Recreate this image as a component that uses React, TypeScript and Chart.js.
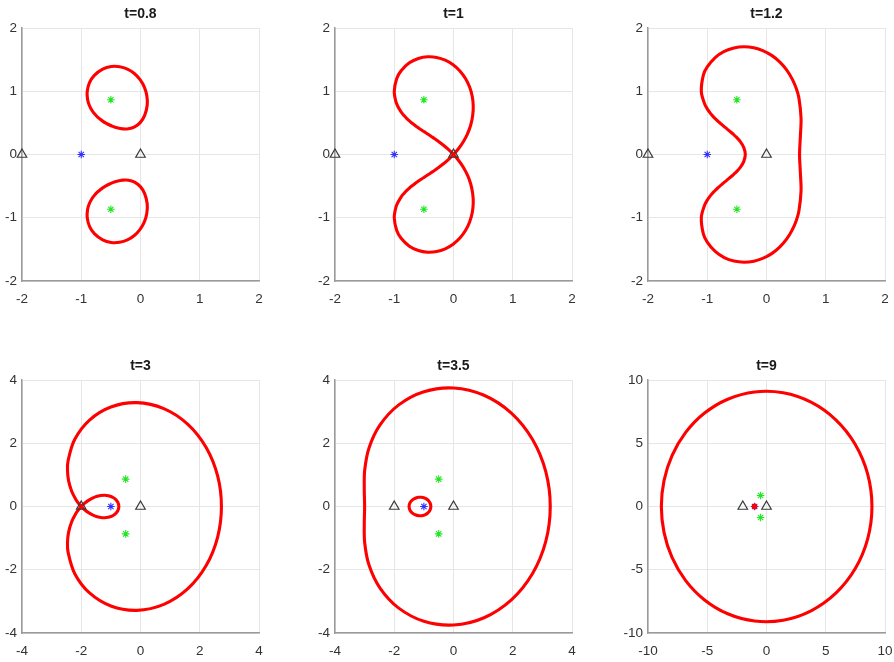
import React, { useEffect, useRef } from 'react';
import { Chart, registerables } from 'chart.js';

Chart.register(...registerables);

type P = [number, number];

// ---------- data ----------
const PANEL_TITLES = ['t=0.8', 't=1', 't=1.2', 't=3', 't=3.5', 't=9'];
const AXIS_LIMITS = [2, 2, 2, 4, 4, 10];
const TICK_STEPS = [1, 1, 1, 2, 2, 5];

const TRIANGLES: P[] = [[-2, 0], [0, 0]];
const ZEROS: P[] = [[-0.5, 0.866], [-0.5, -0.866]];
const POLE: P[] = [[-1, 0]];

const T08_UPPER: P[] = [
  [-0.1, 0.436], [-0.002, 0.508], [0.07, 0.618], [0.113, 0.779], [0.107, 0.929], [0.065, 1.065],
  [-0.007, 1.183], [-0.104, 1.28], [-0.221, 1.35], [-0.353, 1.388], [-0.494, 1.391], [-0.638, 1.35],
  [-0.779, 1.251], [-0.861, 1.135], [-0.9, 0.995], [-0.893, 0.868], [-0.863, 0.775], [-0.815, 0.691],
  [-0.769, 0.635], [-0.724, 0.592], [-0.679, 0.556], [-0.633, 0.524], [-0.584, 0.496], [-0.531, 0.47],
  [-0.47, 0.445], [-0.397, 0.422], [-0.299, 0.405], [-0.204, 0.406],
];
const T08_LOWER: P[] = [
  [-0.1, -0.436], [-0.002, -0.508], [0.07, -0.618], [0.113, -0.779], [0.107, -0.929], [0.065, -1.065],
  [-0.007, -1.183], [-0.104, -1.28], [-0.221, -1.35], [-0.353, -1.388], [-0.494, -1.391], [-0.638, -1.35],
  [-0.779, -1.251], [-0.861, -1.135], [-0.9, -0.995], [-0.893, -0.868], [-0.863, -0.775], [-0.815, -0.691],
  [-0.769, -0.635], [-0.724, -0.592], [-0.679, -0.556], [-0.633, -0.524], [-0.584, -0.496], [-0.531, -0.47],
  [-0.47, -0.445], [-0.397, -0.422], [-0.299, -0.405], [-0.204, -0.406],
];

const T1_EIGHT: P[] = [
  [0, 0],
  [0.087, 0.095], [0.168, 0.206], [0.238, 0.332], [0.292, 0.47], [0.324, 0.618], [0.333, 0.77],
  [0.316, 0.921], [0.272, 1.067], [0.202, 1.202], [0.108, 1.321], [-0.007, 1.419], [-0.139, 1.491],
  [-0.284, 1.535], [-0.438, 1.545], [-0.593, 1.518], [-0.745, 1.449], [-0.884, 1.324], [-0.958, 1.201],
  [-1, 1],
  [-0.971, 0.831], [-0.934, 0.75], [-0.882, 0.669], [-0.835, 0.615], [-0.792, 0.572], [-0.75, 0.535],
  [-0.71, 0.503], [-0.669, 0.473], [-0.627, 0.444], [-0.584, 0.416], [-0.539, 0.387], [-0.49, 0.357],
  [-0.437, 0.325], [-0.38, 0.289], [-0.316, 0.249], [-0.246, 0.202], [-0.169, 0.147], [-0.087, 0.08],
  [0, 0],
  [0.087, -0.095], [0.168, -0.206], [0.238, -0.332], [0.292, -0.47], [0.324, -0.618], [0.333, -0.77],
  [0.316, -0.921], [0.272, -1.067], [0.202, -1.202], [0.108, -1.321], [-0.007, -1.419], [-0.139, -1.491],
  [-0.284, -1.535], [-0.438, -1.545], [-0.593, -1.518], [-0.745, -1.449], [-0.884, -1.324], [-0.958, -1.201],
  [-1, -1],
  [-0.971, -0.831], [-0.934, -0.75], [-0.882, -0.669], [-0.835, -0.615], [-0.792, -0.572], [-0.75, -0.535],
  [-0.71, -0.503], [-0.669, -0.473], [-0.627, -0.444], [-0.584, -0.416], [-0.539, -0.387], [-0.49, -0.357],
  [-0.437, -0.325], [-0.38, -0.289], [-0.316, -0.249], [-0.246, -0.202], [-0.169, -0.147], [-0.087, -0.08],
];

const T12_LOOP: P[] = [
  [-1.066, -1.256], [-1.0, -1.385], [-0.866, -1.533], [-0.713, -1.63], [-0.549, -1.685], [-0.38, -1.703],
  [-0.214, -1.687], [-0.054, -1.639], [0.094, -1.563], [0.226, -1.461], [0.339, -1.339], [0.43, -1.2],
  [0.5, -1.05], [0.547, -0.893], [0.583, -0.576], [0.571, -0.277],
  [0.558, 0],
  [0.571, 0.277], [0.583, 0.576], [0.547, 0.893], [0.5, 1.05], [0.43, 1.2], [0.339, 1.339], [0.226, 1.461],
  [0.094, 1.563], [-0.054, 1.639], [-0.214, 1.687], [-0.38, 1.703], [-0.549, 1.685], [-0.713, 1.63],
  [-0.866, 1.533], [-1.0, 1.385], [-1.066, 1.256],
  [-1.1, 0.995],
  [-1.042, 0.794], [-1.0, 0.722], [-0.943, 0.647], [-0.895, 0.595], [-0.852, 0.554], [-0.811, 0.519],
  [-0.773, 0.487], [-0.736, 0.458], [-0.699, 0.429], [-0.663, 0.402], [-0.627, 0.373], [-0.59, 0.344],
  [-0.553, 0.313], [-0.515, 0.28], [-0.442, 0.203], [-0.383, 0.109],
  [-0.358, 0],
  [-0.383, -0.109], [-0.442, -0.203], [-0.515, -0.28], [-0.553, -0.313], [-0.59, -0.344], [-0.627, -0.373],
  [-0.663, -0.402], [-0.699, -0.429], [-0.736, -0.458], [-0.773, -0.487], [-0.811, -0.519], [-0.852, -0.554],
  [-0.895, -0.595], [-0.943, -0.647], [-1.0, -0.722], [-1.042, -0.794],
  [-1.1, -0.995],
];

const T3_LOOP: P[] = [
  [-2, 0],
  [-2.087, 0.095], [-2.172, 0.207], [-2.323, 0.482], [-2.43, 0.825], [-2.464, 1.144], [-2.445, 1.445],
  [-2.223, 2.117], [-1.73, 2.726], [-1.0, 3.146], [-0.12, 3.284], [0.787, 3.095], [1.599, 2.599],
  [2.221, 1.86], [2.604, 0.966], [2.732, 0],
  [2.604, -0.966], [2.221, -1.86], [1.599, -2.599], [0.787, -3.095], [-0.12, -3.284], [-1.0, -3.146],
  [-1.73, -2.726], [-2.223, -2.117], [-2.445, -1.445], [-2.464, -1.144], [-2.43, -0.825], [-2.323, -0.482],
  [-2.172, -0.207], [-2.087, -0.095],
  [-2, 0],
  [-1.913, 0.08], [-1.828, 0.146], [-1.667, 0.243], [-1.525, 0.303], [-1.424, 0.331], [-1.346, 0.346],
  [-1.205, 0.354], [-1.092, 0.342], [-1.0, 0.318], [-0.924, 0.284], [-0.86, 0.242], [-0.808, 0.192],
  [-0.767, 0.134], [-0.741, 0.069], [-0.732, 0],
  [-0.741, -0.069], [-0.767, -0.134], [-0.808, -0.192], [-0.86, -0.242], [-0.924, -0.284], [-1.0, -0.318],
  [-1.092, -0.342], [-1.205, -0.354], [-1.346, -0.346], [-1.424, -0.331], [-1.525, -0.303], [-1.667, -0.243],
  [-1.828, -0.146], [-1.913, -0.08],
];

const T35_OUTER: P[] = [
  [3.266, 0], [3.115, 1.102], [2.668, 2.118], [1.953, 2.953], [1.031, 3.517], [0.004, 3.748],
  [-1.0, 3.63], [-1.859, 3.206], [-2.486, 2.573], [-2.852, 1.852], [-2.997, 1.153], [-3.012, 0.539],
  [-3.0, 0], [-3.012, -0.539], [-2.997, -1.153], [-2.852, -1.852], [-2.486, -2.573], [-1.859, -3.206],
  [-1.0, -3.63], [0.004, -3.748], [1.031, -3.517], [1.953, -2.953], [2.668, -2.118], [3.115, -1.102],
];
const T35_INNER: P[] = [
  [-0.766, 0], [-0.773, 0.061], [-0.796, 0.118], [-0.831, 0.169], [-0.877, 0.213], [-0.933, 0.249],
  [-1.0, 0.276], [-1.078, 0.291], [-1.168, 0.291], [-1.27, 0.27], [-1.376, 0.217], [-1.464, 0.124],
  [-1.5, 0], [-1.464, -0.124], [-1.376, -0.217], [-1.27, -0.27], [-1.168, -0.291], [-1.078, -0.291],
  [-1.0, -0.276], [-0.933, -0.249], [-0.877, -0.213], [-0.831, -0.169], [-0.796, -0.118], [-0.773, -0.061],
];

const T9_OUTER: P[] = [
  [8.899, 0], [8.539, 2.556], [7.492, 4.903], [5.85, 6.85], [3.76, 8.244], [1.408, 8.988],
  [-1.0, 9.055], [-3.273, 8.482], [-5.253, 7.367], [-6.837, 5.837], [-7.973, 4.026], [-8.649, 2.049],
  [-8.873, 0], [-8.649, -2.049], [-7.973, -4.026], [-6.837, -5.837], [-5.253, -7.367], [-3.273, -8.482],
  [-1.0, -9.055], [1.408, -8.988], [3.76, -8.244], [5.85, -6.85], [7.492, -4.903], [8.539, -2.556],
];
const T9_INNER: P[] = [
  [-0.899, 0], [-0.927, 0.073], [-1.0, 0.11], [-1.086, 0.086], [-1.127, 0], [-1.086, -0.086],
  [-1.0, -0.11], [-0.927, -0.073],
];

const PANEL_CURVES: P[][][] = [
  [T08_UPPER, T08_LOWER],
  [T1_EIGHT],
  [T12_LOOP],
  [T3_LOOP],
  [T35_OUTER, T35_INNER],
  [T9_OUTER, T9_INNER],
];

// ---------- layout ----------
const PLOT_LEFTS = [22, 335, 648];
const PLOT_TOPS = [28, 380];
const PLOT_W = 237;
const PLOT_H = 253;
const AXIS_W = 30;
const RIGHT_PAD = 9;
const TOP_PAD = 28;
const CANVAS_W = AXIS_W + PLOT_W + RIGHT_PAD;
const CANVAS_H = 309;
const FONT = '"Liberation Sans", Arial, Helvetica, sans-serif';

// closed curve: repeat the first three points; the two extra end segments are hidden
function closeLoop(pts: P[]) {
  const arr = pts.concat([pts[0], pts[1], pts[2]]);
  return arr.map(([x, y]) => ({ x, y }));
}
function toXY(pts: P[]) {
  return pts.map(([x, y]) => ({ x, y }));
}

const panelTitlePlugin = {
  id: 'panelTitle',
  afterDraw(chart: any, _args: any, opts: any) {
    const { ctx, chartArea } = chart;
    ctx.save();
    ctx.font = `bold 14px ${FONT}`;
    ctx.fillStyle = '#1a1a1a';
    ctx.textAlign = 'center';
    ctx.textBaseline = 'middle';
    ctx.fillText(opts.text, (chartArea.left + chartArea.right) / 2, chartArea.top - 14);
    ctx.restore();
  },
};

function Panel({ idx }: { idx: number }) {
  const ref = useRef<HTMLCanvasElement | null>(null);
  const col = idx % 3;
  const row = Math.floor(idx / 3);
  const left = PLOT_LEFTS[col] - AXIS_W;
  const top = PLOT_TOPS[row] - TOP_PAD;

  useEffect(() => {
    if (!ref.current) return;
    const lim = AXIS_LIMITS[idx];
    const step = TICK_STEPS[idx];
    const curveSets = PANEL_CURVES[idx].map((c) => {
      const n = c.length;
      return {
        type: 'scatter' as const,
        data: closeLoop(c),
        showLine: true,
        borderColor: '#ff0000',
        borderWidth: 3.1,
        borderCapStyle: 'round',
        borderJoinStyle: 'round',
        pointRadius: 0,
        tension: 0.34,
        fill: false,
        clip: false as any,
        order: 1,
        segment: {
          borderColor: (ctx: any) =>
            ctx.p0DataIndex === 0 || ctx.p0DataIndex === n + 1 ? 'rgba(0,0,0,0)' : undefined,
        },
      };
    });
    const scaleCommon = (isX: boolean) => ({
      type: 'linear' as const,
      min: -lim,
      max: lim,
      ticks: {
        stepSize: step,
        color: '#333333',
        font: { family: FONT, size: 13.5 },
        padding: isX ? 10 : 5,
        maxRotation: 0,
        autoSkip: false,
      },
      grid: { color: '#e6e6e6', lineWidth: 1, drawTicks: false },
      border: { color: '#9a9a9a', width: 1.5 },
      afterFit: (scale: any) => {
        if (isX) scale.height = CANVAS_H - TOP_PAD - PLOT_H;
        else scale.width = AXIS_W;
        scale.paddingLeft = 0;
        scale.paddingRight = 0;
        scale.paddingTop = 0;
        scale.paddingBottom = 0;
      },
    });
    const chart = new Chart(ref.current, {
      type: 'scatter',
      data: {
        datasets: [
          {
            data: toXY(TRIANGLES),
            pointStyle: 'triangle',
            pointRadius: 5.5,
            pointBorderColor: '#3a3a3a',
            pointBackgroundColor: 'rgba(0,0,0,0)',
            pointBorderWidth: 1.2,
            clip: false as any,
            order: 0,
          },
          ...curveSets,
          {
            data: toXY(ZEROS),
            pointStyle: 'star',
            pointRadius: 3.8,
            pointBorderColor: '#22e622',
            pointBorderWidth: 1.1,
            clip: false as any,
            order: 2,
          },
          {
            data: toXY(POLE),
            pointStyle: 'star',
            pointRadius: 3.8,
            pointBorderColor: '#3030ff',
            pointBorderWidth: 1.1,
            clip: false as any,
            order: 2,
          },
        ] as any,
      },
      options: {
        responsive: false,
        animation: false,
        events: [],
        layout: { padding: { top: TOP_PAD, left: 0, bottom: 0, right: RIGHT_PAD } },
        plugins: {
          legend: { display: false },
          tooltip: { enabled: false },
          title: { display: false },
          panelTitle: { text: PANEL_TITLES[idx] },
        } as any,
        scales: {
          x: scaleCommon(true) as any,
          y: scaleCommon(false) as any,
        },
      },
      plugins: [panelTitlePlugin as any],
    });
    return () => chart.destroy();
  }, [idx]);

  return (
    <canvas
      ref={ref}
      width={CANVAS_W}
      height={CANVAS_H}
      style={{ position: 'absolute', left, top, width: CANVAS_W, height: CANVAS_H }}
    />
  );
}

export default function App() {
  return (
    <div style={{ position: 'absolute', left: 0, top: 0, width: 894, height: 662, background: '#ffffff', overflow: 'hidden' }}>
      {PANEL_TITLES.map((_, i) => (
        <Panel key={i} idx={i} />
      ))}
    </div>
  );
}
